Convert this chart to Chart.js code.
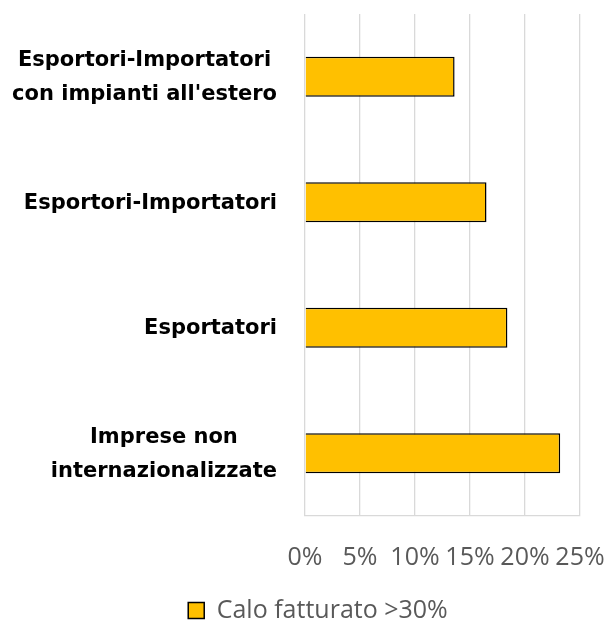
<!DOCTYPE html>
<html>
<head>
<meta charset="utf-8">
<script src="https://cdn.jsdelivr.net/npm/chart.js@4.4.1/dist/chart.umd.min.js"></script>
<style>
html, body { margin: 0; padding: 0; background: #fff; overflow: hidden; }
#wrap { width: 606px; height: 621px; }
</style>
</head>
<body>
<div id="wrap"><canvas id="chart" width="606" height="621"></canvas></div>
<script>
// data
var categories = [
    ['Esportori-Importatori', "con impianti all'estero"],
    ['Esportori-Importatori'],
    ['Esportatori'],
    ['Imprese non', 'internazionalizzate']
];
var seriesName = 'Calo fatturato >30%';
var values = [13.6, 16.5, 18.4, 23.2];
var xTicks = [0, 5, 10, 15, 20, 25];

// category labels: block right aligned, lines centred inside the block
var categoryLabels = {
    id: 'categoryLabels',
    afterDraw: function(chart) {
        var ctx = chart.ctx;
        var yScale = chart.scales.y;
        var right = chart.chartArea.left - 28;
        ctx.save();
        ctx.font = 'bold 21px "DejaVu Sans"';
        ctx.fillStyle = '#000000';
        ctx.textAlign = 'center';
        ctx.textBaseline = 'middle';
        for (var i = 0; i < categories.length; i++) {
            var lines = categories[i];
            var maxW = 0;
            for (var j = 0; j < lines.length; j++) {
                maxW = Math.max(maxW, ctx.measureText(lines[j]).width);
            }
            var cx = right - maxW / 2;
            var cy = yScale.getPixelForValue(i) + 1;
            for (var j = 0; j < lines.length; j++) {
                ctx.fillText(lines[j], cx, cy + (j - (lines.length - 1) / 2) * 34);
            }
        }
        ctx.restore();
    }
};

var chart = new Chart(document.getElementById('chart'), {
    type: 'bar',
    data: {
        labels: categories.map(function(c) { return c.join(' '); }),
        datasets: [{
            label: seriesName,
            data: values,
            backgroundColor: '#FFC000',
            borderColor: '#000000',
            borderWidth: 1.5,
            categoryPercentage: 1,
            barPercentage: 0.32
        }]
    },
    options: {
        indexAxis: 'y',
        responsive: false,
        animation: false,
        layout: {
            padding: { top: 14, left: 30, right: 0, bottom: -12 }
        },
        scales: {
            x: {
                min: 0,
                max: 25,
                afterBuildTicks: function(scale) {
                    scale.ticks = xTicks.map(function(v) { return { value: v }; });
                },
                afterFit: function(scale) {
                    scale.height = 72;
                    scale.paddingRight = 26;
                    scale.paddingLeft = 0;
                },
                grid: { color: '#d9d9d9', lineWidth: 1.3, drawTicks: false },
                border: { display: true, color: '#d9d9d9', width: 1.3 },
                ticks: {
                    padding: 27,
                    color: '#595959',
                    maxRotation: 0,
                    font: { family: '"Open Sans"', size: 25 },
                    callback: function(v) { return v + '%'; }
                }
            },
            y: {
                afterFit: function(scale) {
                    scale.width = 275;
                },
                grid: { display: false },
                border: { display: false },
                ticks: { display: false }
            }
        },
        plugins: {
            legend: {
                position: 'bottom',
                labels: {
                    boxWidth: 16,
                    boxHeight: 16,
                    padding: 10,
                    color: '#595959',
                    font: { family: '"Open Sans"', size: 25 }
                }
            },
            tooltip: { enabled: false }
        }
    },
    plugins: [categoryLabels]
});
</script>
</body>
</html>
